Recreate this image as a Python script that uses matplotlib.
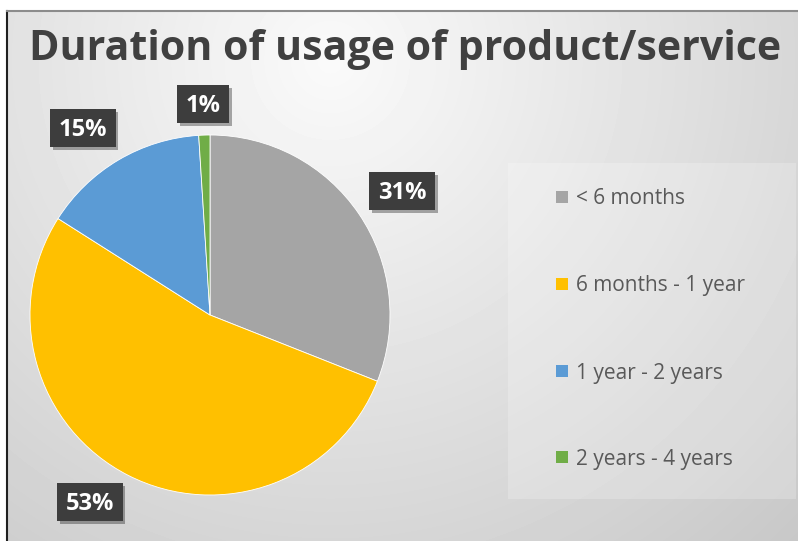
import numpy as np
import matplotlib
matplotlib.use("Agg")
import matplotlib.pyplot as plt
from matplotlib import patheffects
from matplotlib.patches import Rectangle
from matplotlib.transforms import IdentityTransform

title = "Duration of usage of product/service"
categories = ["< 6 months", "6 months - 1 year", "1 year - 2 years", "2 years - 4 years"]
shares = [31, 53, 15, 1]
colors = ["#A5A5A5", "#FFC000", "#5B9BD5", "#70AD47"]

W, H = 798, 541
fig = plt.figure(figsize=(W / 100, H / 100), dpi=100)
fig.patch.set_facecolor("white")

# background layer in pixel coordinates (y down)
bg = fig.add_axes([0, 0, 1, 1])
bg.set_xlim(0, W)
bg.set_ylim(H, 0)
bg.axis("off")

# soft radial gradient of the chart area
x0, y0 = 7, 11
yy, xx = np.mgrid[y0:H, x0:W]
d = np.hypot(xx - 330, yy - 60)
shade = np.clip(250 - 0.075 * d, 190, 252) / 255
bg.imshow(shade, cmap="gray", vmin=0, vmax=1, extent=(x0, W, H, y0),
          interpolation="bilinear", zorder=0)
bg.plot([x0, x0], [y0, H], color="#202020", lw=1.5, zorder=1)
bg.plot([x0, W], [y0, y0], color="#8c8c8c", lw=1.5, zorder=1)

# legend panel
bg.add_patch(Rectangle((508, 163), 288, 336, facecolor="white", alpha=0.22,
                       edgecolor="none", zorder=1))

bg.text(405, 49, title, ha="center", va="center", fontsize=29.6,
        fontweight="bold", family="Open Sans", color="#404040", zorder=3)

# legend entries
legend_y = [197, 284, 371, 457]
for name, col, ly in zip(categories, colors, legend_y):
    bg.add_patch(Rectangle((556, ly - 6), 12, 12, facecolor=col,
                           edgecolor="none", zorder=3))
    bg.text(576, ly + 2, name, ha="left", va="center", fontsize=15,
            family="Open Sans", color="#595959", zorder=3)

# pie axes: center (210, 315), radius 180 px
R = 180
cx, cy = 210, 315
span = 250
ax = fig.add_axes([(cx - span) / W, (H - cy - span) / H, 2 * span / W, 2 * span / H])
ax.axis("off")
ax.patch.set_alpha(0)

wedges, _ = ax.pie(shares, colors=colors, startangle=90, counterclock=False,
                   radius=1, wedgeprops=dict(linewidth=0.6, edgecolor="white"))
ax.set_xlim(-span / R, span / R)
ax.set_ylim(-span / R, span / R)

# data labels just outside each slice, each on a dark box sized to its text
label_dist = [1.264, 1.244, 1.247, 1.162]
label_shift = [-1.8, -5.4, 3.9, 0.1]
renderer = fig.canvas.get_renderer()
for w, v, dist, sh in zip(wedges, shares, label_dist, label_shift):
    mid = np.deg2rad((w.theta1 + w.theta2) / 2 + sh)
    lx, ly = dist * np.cos(mid), dist * np.sin(mid)
    t = ax.text(lx, ly, f"{v}%", ha="center", va="center", fontsize=17,
                fontweight="bold", family="Open Sans", color="white",
                clip_on=False, zorder=6)
    ext = t.get_window_extent(renderer)
    px, py = ax.transData.transform((lx, ly))
    bw, bh = ext.width + 17, 38
    box = Rectangle((px - bw / 2, py - bh / 2 + 2), bw, bh,
                    transform=IdentityTransform(), facecolor="#3d3d3d",
                    edgecolor="none", clip_on=False, zorder=5)
    box.set_path_effects(
        [patheffects.withSimplePatchShadow(offset=(2, -2), alpha=0.35)])
    ax.add_patch(box)

fig.savefig("out.png", dpi=100)
